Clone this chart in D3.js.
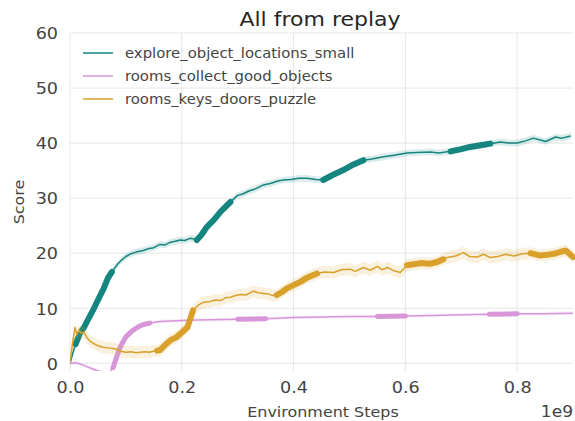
<!DOCTYPE html>
<html><head><meta charset="utf-8">
<script src="https://cdn.jsdelivr.net/npm/d3@7"></script>
<style>
html,body{margin:0;padding:0;background:#fff;}
svg{display:block;font-family:"DejaVu Sans",sans-serif;}
</style></head>
<body>
<svg id="chart" width="575" height="421"></svg>
<script>
// ---------- data (x in units of 1e9 environment steps) ----------
const seriesNames = ["explore_object_locations_small","rooms_collect_good_objects","rooms_keys_doors_puzzle"];
const seriesColors = ["#14857f","#d896d8","#d9a02c"];

const exploreX = [0,0.005,0.01,0.018,0.025,0.03,0.041,0.05,0.06,0.068,0.075,0.085,0.093,0.1,0.107,0.118,0.131,0.14,0.15,0.161,0.17,0.18,0.19,0.197,0.205,0.215,0.222,0.227,0.235,0.245,0.257,0.27,0.287,0.3,0.31,0.32,0.33,0.346,0.36,0.372,0.382,0.395,0.41,0.424,0.44,0.453,0.47,0.489,0.505,0.525,0.54,0.561,0.58,0.603,0.62,0.645,0.66,0.681,0.7,0.716,0.735,0.752,0.77,0.785,0.8,0.815,0.829,0.84,0.851,0.86,0.869,0.88,0.896];
const exploreY = [0,1.8,3.5,5.5,6.5,7.5,9.6,11.5,13.5,15.5,16.6,18,18.8,19.4,19.8,20.2,20.5,20.8,21.0,21.6,21.5,22.0,22.2,22.4,22.3,22.7,22.6,22.4,23.3,24.8,26.0,27.6,29.3,30.5,30.8,31.3,31.6,32.4,32.7,33.1,33.3,33.4,33.6,33.6,33.4,33.3,34.2,35.1,36.0,36.9,37.1,37.5,37.8,38.2,38.3,38.4,38.2,38.5,38.9,39.3,39.6,39.9,40.2,40.0,40.0,40.4,40.9,40.6,40.3,40.7,41.1,40.9,41.3];

const collectX = [0,0.01,0.02,0.03,0.04,0.05,0.06,0.07,0.077,0.083,0.09,0.1,0.11,0.12,0.13,0.143,0.161,0.18,0.21,0.25,0.3,0.35,0.4,0.45,0.5,0.55,0.6,0.65,0.7,0.75,0.8,0.85,0.9];
const collectY = [0,0.1,-0.2,-0.6,-1.0,-1.4,-1.7,-1.7,-0.8,1.0,3.0,4.8,5.8,6.5,7.0,7.3,7.6,7.7,7.8,7.9,8.0,8.1,8.3,8.4,8.5,8.5,8.6,8.7,8.8,8.9,9.0,9.0,9.1];

const keysX = [0,0.005,0.009,0.012,0.016,0.02,0.025,0.03,0.036,0.042,0.05,0.059,0.068,0.077,0.085,0.09,0.1,0.11,0.118,0.125,0.135,0.142,0.149,0.156,0.161,0.167,0.173,0.18,0.19,0.2,0.21,0.215,0.22,0.23,0.239,0.25,0.26,0.269,0.278,0.287,0.296,0.305,0.315,0.328,0.337,0.346,0.355,0.362,0.37,0.38,0.388,0.4,0.412,0.425,0.442,0.455,0.472,0.485,0.502,0.51,0.525,0.537,0.55,0.558,0.568,0.58,0.591,0.603,0.615,0.627,0.645,0.657,0.668,0.675,0.69,0.704,0.715,0.729,0.74,0.752,0.765,0.78,0.794,0.81,0.824,0.84,0.854,0.87,0.887,0.9];
const keysY = [0,4.0,6.5,5.2,6.0,5.5,5.6,4.7,4.0,3.6,3.2,2.9,2.8,2.7,2.5,2.2,2.0,2.1,1.9,2.0,2.1,2.0,2.2,2.3,2.4,3.0,3.6,4.2,4.7,5.6,6.5,8.0,9.6,10.6,11.1,11.2,11.5,11.4,11.9,12.0,12.3,12.5,12.4,13.1,12.8,12.7,12.6,12.3,12.4,13.0,13.6,14.2,14.8,15.6,16.3,16.6,16.5,17.0,17.1,16.7,17.4,16.9,17.6,17.0,17.4,16.8,16.5,17.8,18.0,18.2,18.1,18.4,18.9,19.2,19.5,20.1,19.4,19.3,19.8,19.2,19.4,19.8,19.5,19.9,20.0,19.6,19.7,20.0,20.5,19.3];

// step ranges where the curves appear drawn thicker
const exploreThick = [[0.009,0.077],[0.226,0.298],[0.453,0.528],[0.672,0.756]];
const collectThick = [[0.077,0.149],[0.296,0.376],[0.523,0.603],[0.747,0.828]];
const keysThick    = [[0.156,0.227],[0.37,0.453],[0.597,0.668],[0.818,0.9]];

const xTicks = [0,0.2,0.4,0.6,0.8];
const yTicks = [0,10,20,30,40,50,60];

// ---------- layout ----------
const plotL = 70, plotR = 573, plotT = 33, plotB = 371;
const SX = 1.1; // horizontal text stretch of the reference
const svg = d3.select("#chart");
const x = d3.scaleLinear().domain([0,0.9]).range([plotL,plotR]);
const y = d3.scaleLinear().domain([-1.4,60]).range([plotB,plotT]);

function txt(g, tx, ty, s, size, anchor, color, rot){
  return g.append("text")
    .attr("transform", `translate(${tx},${ty})` + (rot ? ` rotate(${rot})` : "") + ` scale(${SX},1)`)
    .attr("text-anchor", anchor).attr("font-size", size).attr("fill", color).text(s);
}

// grid
const grid = svg.append("g");
grid.selectAll("line.h").data(yTicks).join("line").attr("class","h")
  .attr("x1", plotL).attr("x2", plotR).attr("y1", d=>y(d)).attr("y2", d=>y(d))
  .attr("stroke","#e6e6e6").attr("stroke-width",1);
grid.selectAll("line.v").data(xTicks).join("line").attr("class","v")
  .attr("x1", d=>x(d)).attr("x2", d=>x(d)).attr("y1", plotT).attr("y2", plotB)
  .attr("stroke","#e6e6e6").attr("stroke-width",1);

// axes via d3
const yAxis = svg.append("g").attr("transform",`translate(${plotL},0)`)
  .call(d3.axisLeft(y).tickValues(yTicks).tickSize(0).tickPadding(0).tickFormat(d3.format("d")));
yAxis.select(".domain").remove();
yAxis.selectAll(".tick text").attr("font-size",16).attr("fill","#444")
  .attr("font-family","DejaVu Sans").attr("x",0).attr("dy","0.36em")
  .attr("transform",`translate(-12,0) scale(${SX},1)`);

const xAxis = svg.append("g").attr("transform",`translate(0,${plotB})`)
  .call(d3.axisBottom(x).tickValues(xTicks).tickSize(0).tickPadding(0).tickFormat(d3.format(".1f")));
xAxis.select(".domain").remove();
xAxis.selectAll(".tick text").attr("font-size",16).attr("fill","#444")
  .attr("font-family","DejaVu Sans").attr("y",0).attr("dy",0)
  .attr("transform",`translate(0,22) scale(${SX},1)`);

// clip
svg.append("clipPath").attr("id","clip").append("rect")
  .attr("x",plotL).attr("y",plotT-5).attr("width",plotR-plotL+2).attr("height",plotB-plotT+5);
const plot = svg.append("g").attr("clip-path","url(#clip)");

const series = [
  {xs: exploreX, ys: exploreY, thick: exploreThick, color: seriesColors[0], band: 0.6, tw: 6},
  {xs: collectX, ys: collectY, thick: collectThick, color: seriesColors[1], band: 0.3, tw: 5},
  {xs: keysX,    ys: keysY,    thick: keysThick,    color: seriesColors[2], band: 1.1, tw: 6}
];
const line = d3.line().x(d=>x(d[0])).y(d=>y(d[1])).curve(d3.curveLinear);
const area = d3.area().x(d=>x(d[0])).y0(d=>y(d[1]-d[2])).y1(d=>y(d[1]+d[2]));

series.forEach(s=>{
  const pts = s.xs.map((v,i)=>[v, s.ys[i], s.band]);
  plot.append("path").attr("d", area(pts)).attr("fill", s.color).attr("opacity",0.16);
  plot.append("path").attr("d", line(pts)).attr("fill","none").attr("stroke", s.color)
    .attr("stroke-width",1.5).attr("stroke-linejoin","round");
  s.thick.forEach(r=>{
    const seg = pts.filter(p=>p[0]>=r[0]-1e-9 && p[0]<=r[1]+1e-9);
    plot.append("path").attr("d", line(seg)).attr("fill","none").attr("stroke", s.color)
      .attr("stroke-width",s.tw).attr("stroke-linecap","round").attr("stroke-linejoin","round");
  });
});

// legend
const lg = svg.append("g");
seriesNames.forEach((n,i)=>{
  const ly = 53 + i*23;
  lg.append("line").attr("x1",83).attr("x2",113).attr("y1",ly).attr("y2",ly)
    .attr("stroke", seriesColors[i]).attr("stroke-width",2).attr("opacity",0.75);
  txt(lg, 125, ly+5, n, 13.5, "start", "#444");
});

// titles
txt(svg, 320, 26, "All from replay", 20, "middle", "#262626");
txt(svg, 323, 417, "Environment Steps", 14.5, "middle", "#444");
txt(svg, 24, 202, "Score", 14.5, "middle", "#444", -90);
txt(svg, 573, 417, "1e9", 15.5, "end", "#444");
</script>
</body></html>
